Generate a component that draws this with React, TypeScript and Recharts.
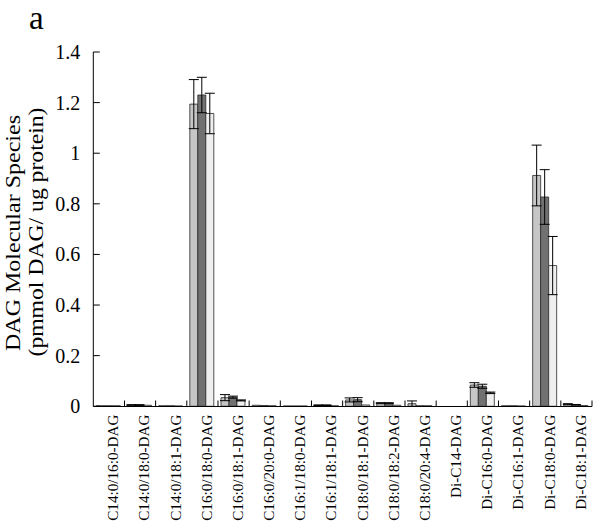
import React from "react";
import { BarChart, Bar, XAxis, YAxis, ErrorBar } from "recharts";

const categories = [
  "C14:0/16:0-DAG",
  "C14:0/18:0-DAG",
  "C14:0/18:1-DAG",
  "C16:0/18:0-DAG",
  "C16:0/18:1-DAG",
  "C16:0/20:0-DAG",
  "C16:1/18:0-DAG",
  "C16:1/18:1-DAG",
  "C18:0/18:1-DAG",
  "C18:0/18:2-DAG",
  "C18:0/20:4-DAG",
  "Di-C14-DAG",
  "Di-C16:0-DAG",
  "Di-C16:1-DAG",
  "Di-C18:0-DAG",
  "Di-C18:1-DAG",
];

// three groups: light grey, dark grey, white
const groupA = [0.002, 0.005, 0.002, 1.194, 0.034, 0.004, 0.001, 0.004, 0.025, 0.012, 0.01, 0, 0.084, 0.002, 0.912, 0.008];
const errA = [0, 0.001, 0, 0.097, 0.012, 0, 0, 0.001, 0.008, 0.002, 0.011, 0, 0.009, 0, 0.12, 0.002];
const groupB = [0.002, 0.005, 0.002, 1.23, 0.036, 0.003, 0.001, 0.004, 0.026, 0.012, 0.002, 0, 0.079, 0.002, 0.827, 0.006];
const errB = [0, 0.001, 0, 0.07, 0.004, 0, 0, 0.001, 0.008, 0.002, 0, 0, 0.008, 0, 0.108, 0.001];
const groupC = [0.002, 0.004, 0.001, 1.157, 0.023, 0.002, 0.001, 0.002, 0.005, 0.004, 0.002, 0, 0.053, 0.001, 0.556, 0.003];
const errC = [0, 0, 0, 0.08, 0.002, 0, 0, 0, 0, 0, 0, 0, 0.003, 0, 0.115, 0];

const yTicks = [0, 0.2, 0.4, 0.6, 0.8, 1, 1.2, 1.4];

const data = categories.map((name, i) => ({
  name,
  a: groupA[i],
  ea: errA[i],
  b: groupB[i],
  eb: errB[i],
  c: groupC[i],
  ec: errC[i],
}));

const W = 600;
const H = 529;
const LEFT = 93.3;
const RIGHT = 8;
const BAND = (W - LEFT - RIGHT) / categories.length;
const SERIF = "'Liberation Serif', 'Times New Roman', serif";

const XTick = (props: any) => {
  const { x, y, payload } = props;
  const axisY = y - 8;
  return (
    <g>
      <line x1={x + BAND / 2} x2={x + BAND / 2} y1={axisY} y2={axisY - 6} stroke="#000" strokeWidth={1} />
      <text
        x={x + 4}
        y={y}
        transform={`rotate(-90 ${x + 4} ${y})`}
        textAnchor="end"
        dy="0.35em"
        fontFamily={SERIF}
        fontSize={15.2}
        fill="#000"
      >
        {payload.value}
      </text>
    </g>
  );
};

const YTick = (props: any) => {
  const { x, y, payload } = props;
  return (
    <g>
      <line x1={x + 13} x2={x + 19.5} y1={y} y2={y} stroke="#000" strokeWidth={1} />
      <text x={x} y={y} textAnchor="end" dy="0.35em" fontFamily={SERIF} fontSize={20} fill="#000">
        {payload.value}
      </text>
    </g>
  );
};

const YLabel = () => (
  <g>
    <text x={29} y={29} fontFamily={SERIF} fontSize={33} fill="#000">
      a
    </text>
    <text
      x={19.5}
      y={233}
      transform="rotate(-90 19.5 233)"
      textAnchor="middle"
      fontFamily={SERIF}
      fontSize={20}
      textLength={236}
      lengthAdjust="spacingAndGlyphs"
      fill="#000"
    >
      DAG Molecular Species
    </text>
    <text
      x={43}
      y={232}
      transform="rotate(-90 43 232)"
      textAnchor="middle"
      fontFamily={SERIF}
      fontSize={20}
      textLength={249}
      lengthAdjust="spacingAndGlyphs"
      fill="#000"
    >
      (pmmol DAG/ ug protein)
    </text>
  </g>
);

export default function App() {
  return (
    <div style={{ position: "absolute", left: 0, top: 0, background: "#fff" }}>
      <BarChart
        width={W}
        height={H}
        data={data}
        margin={{ top: 52, right: RIGHT, left: 0, bottom: 0 }}
        barCategoryGap={3}
        barGap={0}
      >
        <XAxis
          dataKey="name"
          interval={0}
          height={122.5}
          tickSize={0}
          tickMargin={8}
          tick={<XTick />}
          axisLine={{ stroke: "#000", strokeWidth: 1 }}
        />
        <YAxis
          width={LEFT}
          domain={[0, 1.4]}
          ticks={yTicks}
          interval={0}
          tickSize={0}
          tickMargin={13}
          tick={<YTick />}
          axisLine={{ stroke: "#000", strokeWidth: 1 }}
          label={<YLabel />}
        />
        <Bar dataKey="a" fill="#c6c6c6" stroke="#2a2a2a" strokeWidth={0.8} isAnimationActive={false}>
          <ErrorBar dataKey="ea" width={5} stroke="#000" strokeWidth={1} isAnimationActive={false} />
        </Bar>
        <Bar dataKey="b" fill="#717171" stroke="#2a2a2a" strokeWidth={0.8} isAnimationActive={false}>
          <ErrorBar dataKey="eb" width={5} stroke="#000" strokeWidth={1} isAnimationActive={false} />
        </Bar>
        <Bar dataKey="c" fill="#efefef" stroke="#2a2a2a" strokeWidth={0.8} isAnimationActive={false}>
          <ErrorBar dataKey="ec" width={5} stroke="#000" strokeWidth={1} isAnimationActive={false} />
        </Bar>
      </BarChart>
    </div>
  );
}
